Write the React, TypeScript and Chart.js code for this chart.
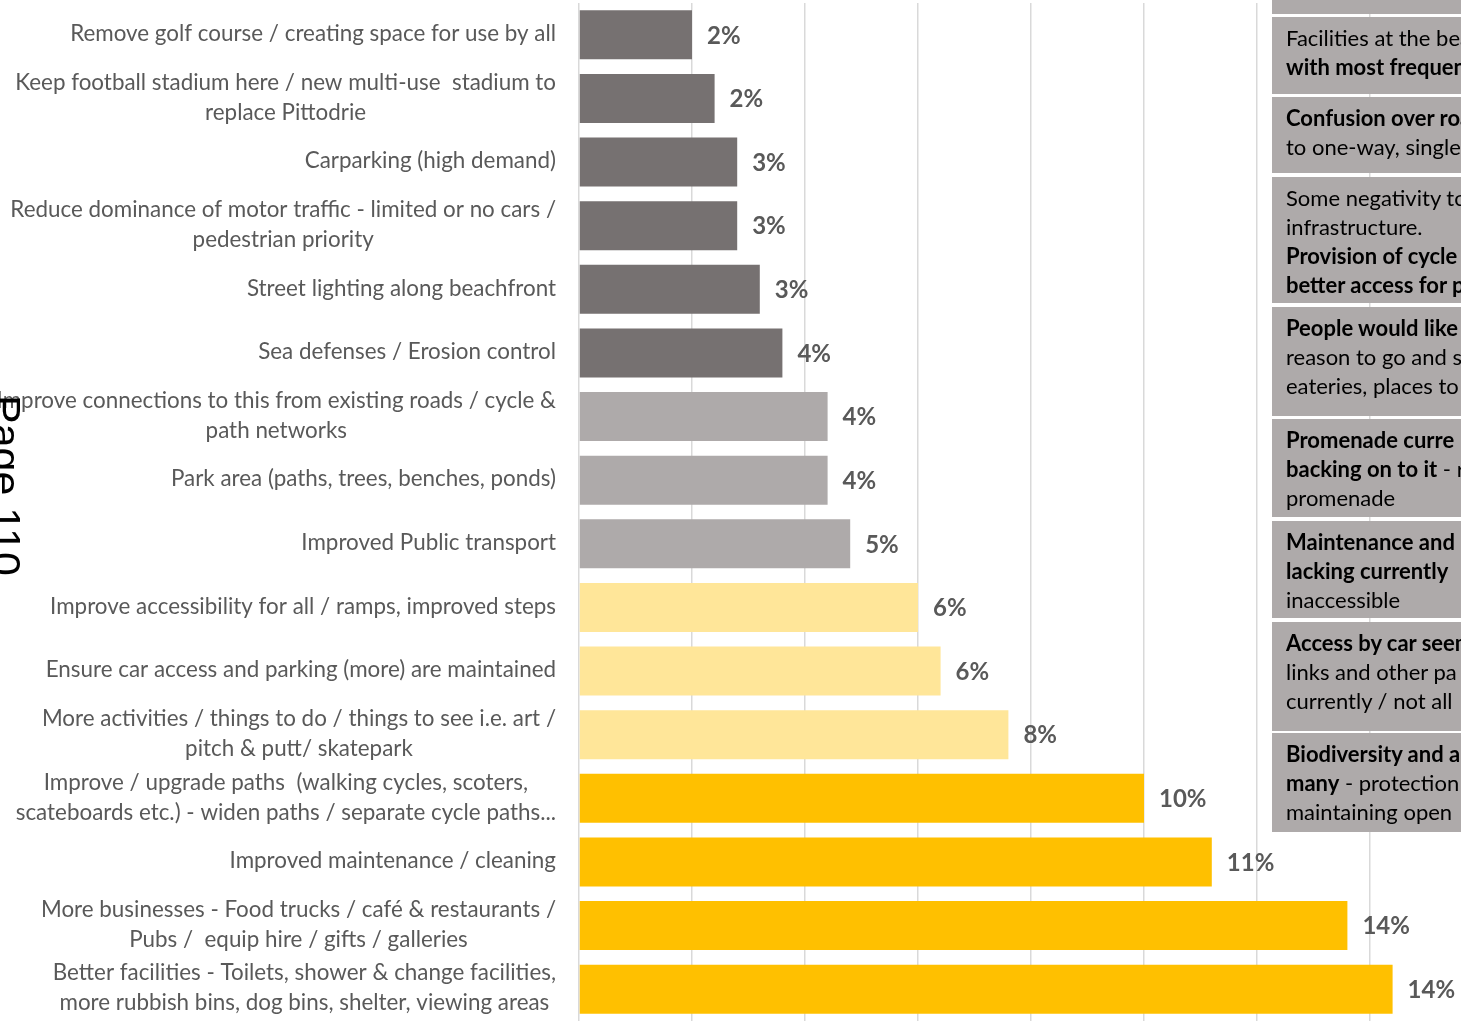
import React, { useEffect, useRef } from "react";
import { Chart, registerables } from "chart.js";

Chart.register(...registerables);

const categories: (string | string[])[] = [
  "Remove golf course / creating space for use by all",
  ["Keep football stadium here / new multi-use  stadium to", "replace Pittodrie"],
  "Carparking (high demand)",
  ["Reduce dominance of motor traffic - limited or no cars /", "pedestrian priority"],
  "Street lighting along beachfront",
  "Sea defenses / Erosion control",
  ["Improve connections to this from existing roads / cycle &", "path networks"],
  "Park area (paths, trees, benches, ponds)",
  "Improved Public transport",
  "Improve accessibility for all / ramps, improved steps",
  "Ensure car access and parking (more) are maintained",
  ["More activities / things to do / things to see i.e. art /", "pitch & putt/ skatepark"],
  ["Improve / upgrade paths  (walking cycles, scoters,", "scateboards etc.) - widen paths / separate cycle paths..."],
  "Improved maintenance / cleaning",
  ["More businesses - Food trucks / café & restaurants /", "Pubs /  equip hire / gifts / galleries"],
  ["Better facilities - Toilets, shower & change facilities,", "more rubbish bins, dog bins, shelter, viewing areas"],
];

const counts = [5, 6, 7, 7, 8, 9, 11, 11, 12, 15, 16, 19, 25, 28, 34, 36];

const pctLabels = ["2%", "2%", "3%", "3%", "3%", "4%", "4%", "4%", "5%", "6%", "6%", "8%", "10%", "11%", "14%", "14%"];

const barColors = [
  "#767171", "#767171", "#767171", "#767171", "#767171", "#767171",
  "#AEAAAA", "#AEAAAA", "#AEAAAA",
  "#FFE699", "#FFE699", "#FFE699",
  "#FFC000", "#FFC000", "#FFC000", "#FFC000",
];

const axisMax = 40;
const axisStep = 5;

type Seg = [string, boolean];
const boxTops = [-10, 17, 97, 177, 307, 419, 521, 622, 733];
const boxBottoms = [14, 94, 173, 303, 416, 517, 618, 731, 832];
const boxLines: Seg[][][] = [
  [],
  [[["Facilities at the bea", false]], [["with most frequen", true]]],
  [[["Confusion over roa", true]], [["to one-way, single", false]]],
  [
    [["Some negativity to", false]],
    [["infrastructure.", false]],
    [["Provision of cycle", true]],
    [["better access for p", true]],
  ],
  [[["People would like", true]], [["reason to go and s", false]], [["eateries, places to", false]]],
  [[["Promenade curre", true]], [["backing on to it", true], [" - r", false]], [["promenade", false]]],
  [[["Maintenance and", true]], [["lacking currently", true]], [["inaccessible", false]]],
  [[["Access by car seem", true]], [["links and other pa", false]], [["currently / not all", false]]],
  [[["Biodiversity and a", true]], [["many", true], [" - protection", false]], [["maintaining open", false]]],
];

const LABEL_RIGHT = 556;
const LABEL_FONT = "22.4px Lato";
const LABEL_LINE = 30;

const categoryLabelPlugin = {
  id: "categoryLabels",
  afterDraw(chart: any) {
    const ctx = chart.ctx;
    const yScale = chart.scales.y;
    ctx.save();
    ctx.font = LABEL_FONT;
    ctx.fillStyle = "#595959";
    ctx.textAlign = "center";
    ctx.textBaseline = "middle";
    categories.forEach((lab, i) => {
      const lines = Array.isArray(lab) ? lab : [lab];
      const yc = yScale.getPixelForValue(i);
      const w = Math.max(...lines.map((l) => ctx.measureText(l).width));
      const cx = LABEL_RIGHT - w / 2;
      lines.forEach((l, j) => {
        ctx.fillText(l, cx, yc + (j - (lines.length - 1) / 2) * LABEL_LINE - 1);
      });
    });
    ctx.restore();
  },
};

const valueLabelPlugin = {
  id: "valueLabels",
  afterDatasetsDraw(chart: any) {
    const ctx = chart.ctx;
    const meta = chart.getDatasetMeta(0);
    ctx.save();
    ctx.font = "bold 24px Lato";
    ctx.fillStyle = "#595959";
    ctx.textAlign = "left";
    ctx.textBaseline = "middle";
    meta.data.forEach((bar: any, i: number) => {
      ctx.fillText(pctLabels[i], bar.x + 15, bar.y + 1);
    });
    ctx.restore();
  },
};

export default function App() {
  const canvasRef = useRef<HTMLCanvasElement | null>(null);

  useEffect(() => {
    if (!canvasRef.current) return;
    const chart = new Chart(canvasRef.current, {
      type: "bar",
      data: {
        labels: categories as any,
        datasets: [
          {
            data: counts,
            backgroundColor: barColors,
            borderWidth: 0,
            barPercentage: 0.77,
            categoryPercentage: 1,
          },
        ],
      },
      options: {
        indexAxis: "y",
        responsive: false,
        animation: false,
        layout: { padding: { top: 3, bottom: 2, left: 0, right: 17 } },
        plugins: {
          legend: { display: false },
          tooltip: { enabled: false },
        },
        scales: {
          x: {
            min: 0,
            max: axisMax,
            ticks: { display: false, stepSize: axisStep },
            grid: { color: "#D9D9D9", lineWidth: 1.5, drawTicks: false },
            border: { display: false },
            afterFit: (s: any) => {
              s.height = 0;
            },
          },
          y: {
            ticks: { display: false },
            grid: { display: false },
            border: { display: false },
            afterFit: (s: any) => {
              s.width = 579;
            },
          },
        },
      },
      plugins: [categoryLabelPlugin, valueLabelPlugin],
    });
    return () => chart.destroy();
  }, []);

  return (
    <div
      style={{
        position: "fixed",
        left: 0,
        top: 0,
        width: 1461,
        height: 1023,
        overflow: "hidden",
        background: "#fff",
      }}
    >
      <canvas ref={canvasRef} width={1500} height={1023} style={{ position: "absolute", left: 0, top: 0 }} />
      {boxTops.map((t, i) => (
        <div
          key={i}
          style={{
            position: "absolute",
            left: 1272,
            top: t,
            width: 320,
            height: boxBottoms[i] - t,
            background: "#AEAAAA",
            boxSizing: "border-box",
            padding: "6px 0 0 14px",
            font: "22px Lato",
            lineHeight: "29px",
            color: "#000",
            whiteSpace: "nowrap",
          }}
        >
          {boxLines[i].map((line, j) => (
            <div key={j}>
              {line.map((seg, k) => (
                <span key={k} style={{ fontWeight: seg[1] ? "bold" : "normal" }}>
                  {seg[0]}
                </span>
              ))}
            </div>
          ))}
        </div>
      ))}
      <div
        style={{
          position: "absolute",
          left: 27,
          top: 395,
          transformOrigin: "0 0",
          transform: "rotate(90deg)",
          font: "43px 'Liberation Sans'",
          lineHeight: "43px",
          color: "#000",
          whiteSpace: "nowrap",
        }}
      >
        Page 110
      </div>
    </div>
  );
}
